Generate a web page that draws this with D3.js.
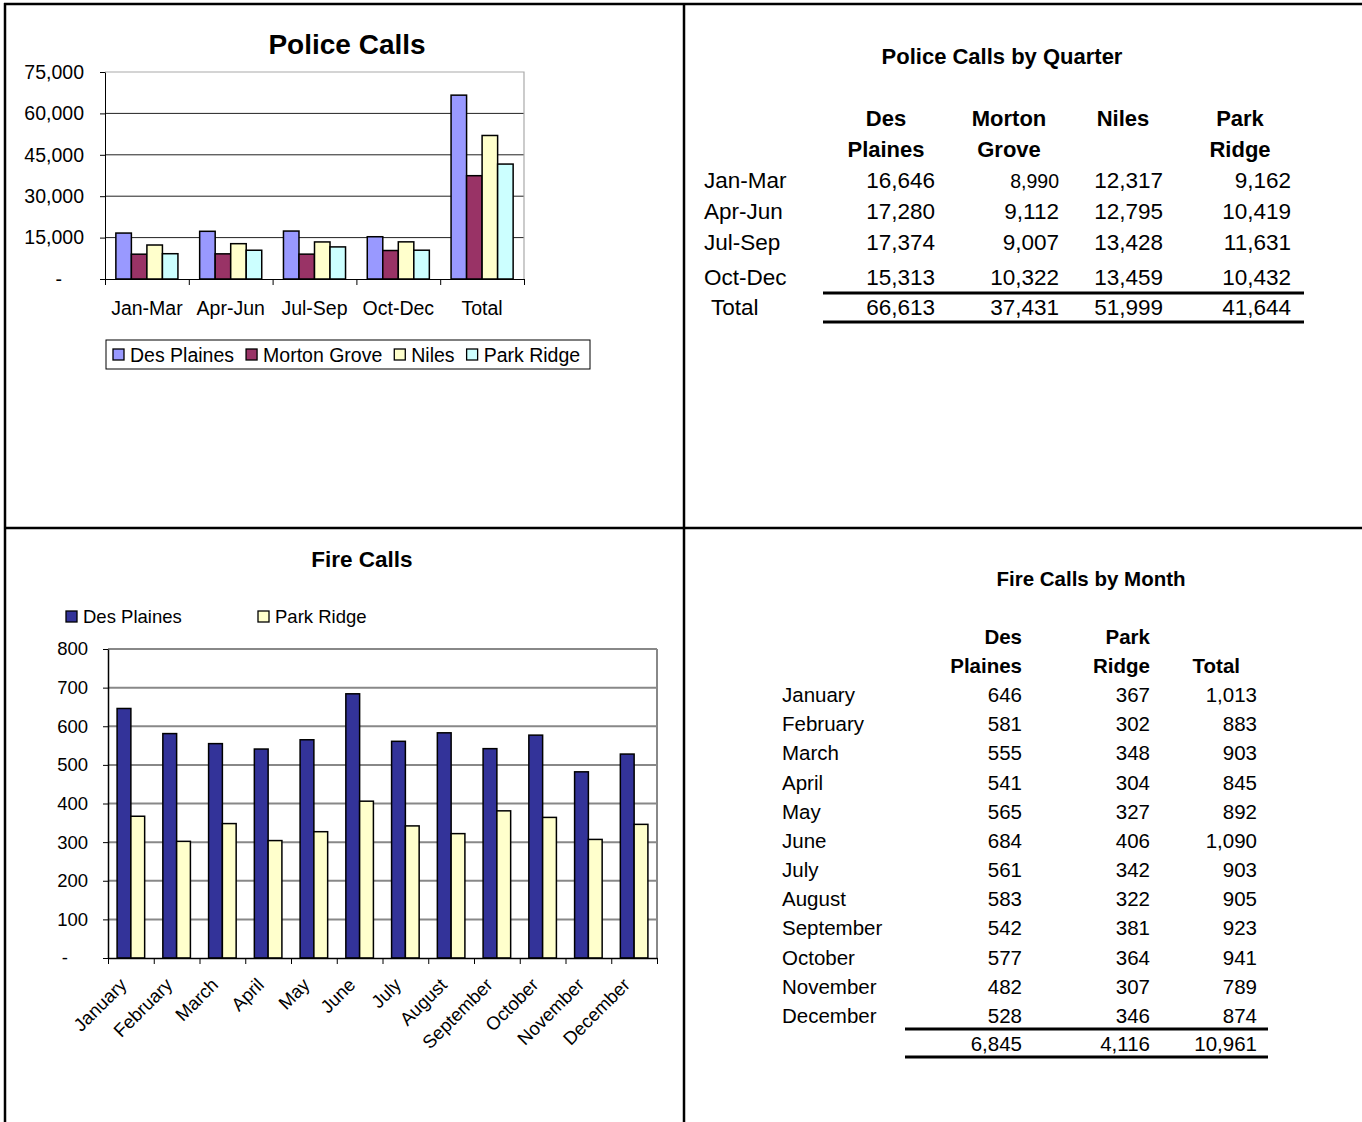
<!DOCTYPE html>
<html>
<head>
<meta charset="utf-8">
<script src="https://cdn.jsdelivr.net/npm/d3@7"></script>
<style>
  body { margin: 0; background: #fff; }
  svg { display: block; font-family: Arial, "Liberation Sans", sans-serif; }
</style>
</head>
<body>
<svg id="page" width="1362" height="1122"></svg>
<script>
// ---- data ----
const quarters = ["Jan-Mar", "Apr-Jun", "Jul-Sep", "Oct-Dec"];
const policeCities = ["Des Plaines", "Morton Grove", "Niles", "Park Ridge"];
const desPlainesPolice = [16646, 17280, 17374, 15313];
const mortonGrovePolice = [8990, 9112, 9007, 10322];
const nilesPolice = [12317, 12795, 13428, 13459];
const parkRidgePolice = [9162, 10419, 11631, 10432];
const policeTicks = [0, 15000, 30000, 45000, 60000, 75000];

const months = ["January", "February", "March", "April", "May", "June", "July",
  "August", "September", "October", "November", "December"];
const fireCities = ["Des Plaines", "Park Ridge"];
const desPlainesFire = [646, 581, 555, 541, 565, 684, 561, 583, 542, 577, 482, 528];
const parkRidgeFire = [367, 302, 348, 304, 327, 406, 342, 322, 381, 364, 307, 346];
const fireTicks = [0, 100, 200, 300, 400, 500, 600, 700, 800];

const fmt = d3.format(",");
const svg = d3.select("#page");

// ---- page frame (quadrants) ----
const frame = svg.append("g").attr("stroke", "#000").attr("stroke-width", 2.5);
frame.append("line").attr("x1", 4).attr("x2", 1362).attr("y1", 4).attr("y2", 4);
frame.append("line").attr("x1", 5).attr("x2", 5).attr("y1", 3).attr("y2", 1122);
frame.append("line").attr("x1", 684).attr("x2", 684).attr("y1", 3).attr("y2", 1122);
frame.append("line").attr("x1", 4).attr("x2", 1362).attr("y1", 528).attr("y2", 528);

// ================= Police Calls chart =================
function drawPoliceChart() {
  const box = {left: 105, right: 524, top: 72, bottom: 279};
  const colors = ["#9999FF", "#993366", "#FFFFCC", "#CCFFFF"];
  const cats = quarters.concat(["Total"]);
  const seriesValues = [desPlainesPolice, mortonGrovePolice, nilesPolice, parkRidgePolice];
  const series = policeCities.map((name, i) => ({
    name: name,
    color: colors[i],
    values: seriesValues[i].concat([d3.sum(seriesValues[i])])
  }));

  const g = svg.append("g");

  g.append("text")
    .attr("x", 347).attr("y", 54)
    .attr("text-anchor", "middle")
    .style("font-size", "28px").style("font-weight", "bold")
    .text("Police Calls");

  const x0 = d3.scaleBand().domain(cats).range([box.left, box.right]);
  const x1 = d3.scaleBand().domain(policeCities).range([0, x0.bandwidth()])
    .paddingInner(0).paddingOuter(0.7);
  const y = d3.scaleLinear().domain([0, 75000]).range([box.bottom, box.top]);

  // gridlines
  g.selectAll(".grid")
    .data(policeTicks.filter(t => t > 0 && t < 75000))
    .enter().append("line")
    .attr("x1", box.left).attr("x2", box.right)
    .attr("y1", d => y(d)).attr("y2", d => y(d))
    .attr("stroke", "#222").attr("stroke-width", 1);

  // plot border top / right
  g.append("path")
    .attr("d", `M${box.left},${y(75000)}H${box.right}V${box.bottom}`)
    .attr("fill", "none").attr("stroke", "#aaa").attr("stroke-width", 1.2);

  // bars
  const groups = g.selectAll(".grp")
    .data(cats)
    .enter().append("g")
    .attr("transform", d => `translate(${x0(d)},0)`);

  groups.selectAll("rect")
    .data((c, ci) => series.map(s => ({name: s.name, color: s.color, value: s.values[ci]})))
    .enter().append("rect")
    .attr("x", d => x1(d.name))
    .attr("width", x1.bandwidth())
    .attr("y", d => y(d.value))
    .attr("height", d => y(0) - y(d.value))
    .attr("fill", d => d.color)
    .attr("stroke", "#000").attr("stroke-width", 1.5);

  // y axis
  const yAxis = g.append("g")
    .attr("transform", `translate(${box.left},0)`)
    .call(d3.axisLeft(y).tickValues(policeTicks).tickSize(5).tickPadding(16)
      .tickSizeOuter(0).tickFormat(d => d === 0 ? "-" : fmt(d)));
  yAxis.selectAll("text").style("font-size", "19.5px").attr("fill", "#000")
    .attr("font-family", null);
  yAxis.selectAll("text").filter(d => d === 0).attr("dx", -22);
  yAxis.selectAll("line").attr("stroke", "#000");
  yAxis.select(".domain").attr("stroke", "#000");

  // x axis (ticks on category boundaries)
  const xb = d3.scaleLinear().domain([0, cats.length]).range([box.left, box.right]);
  const xAxis = g.append("g")
    .attr("transform", `translate(0,${box.bottom})`)
    .call(d3.axisBottom(xb).tickValues(d3.range(cats.length + 1)).tickSize(6)
      .tickSizeOuter(0).tickFormat(""));
  xAxis.selectAll("line,path").attr("stroke", "#000");

  const xLabels = g.append("g")
    .attr("transform", `translate(0,${box.bottom})`)
    .call(d3.axisBottom(x0).tickSize(0).tickPadding(22));
  xLabels.select(".domain").remove();
  xLabels.selectAll("text").style("font-size", "19.5px").attr("fill", "#000")
    .attr("font-family", null);

  // legend
  const legend = g.append("g");
  legend.append("rect")
    .attr("x", 106).attr("y", 340).attr("width", 484).attr("height", 29)
    .attr("fill", "#fff").attr("stroke", "#000").attr("stroke-width", 1);
  let lx = 113;
  series.forEach(s => {
    legend.append("rect")
      .attr("x", lx).attr("y", 349).attr("width", 11).attr("height", 11)
      .attr("fill", s.color).attr("stroke", "#000").attr("stroke-width", 1.3);
    const t = legend.append("text")
      .attr("x", lx + 17).attr("y", 362)
      .style("font-size", "19.5px")
      .text(s.name);
    lx = lx + 17 + t.node().getComputedTextLength() + 12;
  });
}

// ================= Police Calls by Quarter table =================
function drawPoliceTable() {
  const g = svg.append("g");
  const seriesValues = [desPlainesPolice, mortonGrovePolice, nilesPolice, parkRidgePolice];

  g.append("text")
    .attr("x", 1002).attr("y", 64)
    .attr("text-anchor", "middle")
    .style("font-size", "22px").style("font-weight", "bold")
    .text("Police Calls by Quarter");

  const headers = [["Des", "Plaines"], ["Morton", "Grove"], ["Niles", ""], ["Park", "Ridge"]];
  const headCenter = d3.scaleOrdinal().domain(policeCities).range([886, 1009, 1123, 1240]);
  const colRight = d3.scaleOrdinal().domain(policeCities).range([935, 1059, 1163, 1291]);
  const rows = quarters.concat(["Total"]);
  const rowY = d3.scaleOrdinal().domain(rows).range([188, 219, 250, 285, 315]);

  policeCities.forEach((c, i) => {
    headers[i].forEach((h, j) => {
      g.append("text")
        .attr("x", headCenter(c)).attr("y", 126 + j * 31)
        .attr("text-anchor", "middle")
        .style("font-size", "22px").style("font-weight", "bold")
        .text(h);
    });
  });

  rows.forEach((r, ri) => {
    g.append("text")
      .attr("x", r === "Total" ? 711 : 704).attr("y", rowY(r))
      .style("font-size", "22.5px")
      .text(r);
    policeCities.forEach((c, ci) => {
      const v = r === "Total" ? d3.sum(seriesValues[ci]) : seriesValues[ci][ri];
      g.append("text")
        .attr("x", colRight(c)).attr("y", rowY(r))
        .attr("text-anchor", "end")
        .style("font-size", v === 8990 ? "19.5px" : "22.5px")
        .text(fmt(v));
    });
  });

  g.selectAll(".rule")
    .data([293, 322])
    .enter().append("line")
    .attr("x1", 823).attr("x2", 1304)
    .attr("y1", d => d).attr("y2", d => d)
    .attr("stroke", "#000").attr("stroke-width", 3);
}

// ================= Fire Calls chart =================
function drawFireChart() {
  const box = {left: 108, right: 657, top: 649, bottom: 958};
  const colors = ["#333399", "#FFFFCC"];
  const series = [
    {name: fireCities[0], color: colors[0], values: desPlainesFire},
    {name: fireCities[1], color: colors[1], values: parkRidgeFire}
  ];
  const g = svg.append("g");

  g.append("text")
    .attr("x", 362).attr("y", 567)
    .attr("text-anchor", "middle")
    .style("font-size", "22.5px").style("font-weight", "bold")
    .text("Fire Calls");

  // legend
  const legX = d3.scaleOrdinal().domain(fireCities).range([66, 258]);
  series.forEach(s => {
    g.append("rect")
      .attr("x", legX(s.name)).attr("y", 611).attr("width", 11).attr("height", 11)
      .attr("fill", s.color).attr("stroke", "#000").attr("stroke-width", 1.3);
    g.append("text")
      .attr("x", legX(s.name) + 17).attr("y", 623)
      .style("font-size", "18.5px")
      .text(s.name);
  });

  const x0 = d3.scaleBand().domain(months).range([box.left, box.right]);
  const x1 = d3.scaleBand().domain(fireCities).range([0, x0.bandwidth()])
    .paddingInner(0).paddingOuter(0.66);
  const y = d3.scaleLinear().domain([0, 800]).range([box.bottom, box.top]);

  // gridlines
  g.selectAll(".grid")
    .data(fireTicks.filter(t => t > 0))
    .enter().append("line")
    .attr("x1", box.left).attr("x2", box.right)
    .attr("y1", d => y(d)).attr("y2", d => y(d))
    .attr("stroke", "#888").attr("stroke-width", 2);
  g.append("line")
    .attr("x1", box.right).attr("x2", box.right)
    .attr("y1", box.top).attr("y2", box.bottom)
    .attr("stroke", "#888").attr("stroke-width", 2);

  const groups = g.selectAll(".grp")
    .data(months)
    .enter().append("g")
    .attr("transform", d => `translate(${x0(d)},0)`);

  groups.selectAll("rect")
    .data((m, mi) => series.map(s => ({name: s.name, color: s.color, value: s.values[mi]})))
    .enter().append("rect")
    .attr("x", d => x1(d.name))
    .attr("width", x1.bandwidth())
    .attr("y", d => y(d.value))
    .attr("height", d => y(0) - y(d.value))
    .attr("fill", d => d.color)
    .attr("stroke", "#000").attr("stroke-width", 1.5);

  // y axis
  const yAxis = g.append("g")
    .attr("transform", `translate(${box.left},0)`)
    .call(d3.axisLeft(y).tickValues(fireTicks).tickSize(5).tickPadding(15)
      .tickSizeOuter(0).tickFormat(d => d === 0 ? "-" : d));
  yAxis.selectAll("text").style("font-size", "18.5px").attr("fill", "#000")
    .attr("font-family", null);
  yAxis.selectAll("text").filter(d => d === 0).attr("dx", -20);
  yAxis.selectAll("line").attr("stroke", "#000");
  yAxis.select(".domain").attr("stroke", "#000").attr("stroke-width", 1.5);

  // x axis with boundary ticks
  const xb = d3.scaleLinear().domain([0, months.length]).range([box.left, box.right]);
  const xAxis = g.append("g")
    .attr("transform", `translate(0,${box.bottom})`)
    .call(d3.axisBottom(xb).tickValues(d3.range(months.length + 1)).tickSize(6)
      .tickSizeOuter(0).tickFormat(""));
  xAxis.selectAll("line").attr("stroke", "#000");
  xAxis.select(".domain").attr("stroke", "#000").attr("stroke-width", 1.5);

  const xLabels = g.append("g")
    .attr("transform", `translate(0,${box.bottom})`)
    .call(d3.axisBottom(x0).tickSize(0));
  xLabels.select(".domain").remove();
  xLabels.selectAll("text")
    .style("font-size", "18.5px").attr("fill", "#000").attr("font-family", null)
    .attr("x", 0).attr("y", 0).attr("dy", 0)
    .attr("text-anchor", "end")
    .attr("transform", "translate(-3,28) rotate(-45)");
}

// ================= Fire Calls by Month table =================
function drawFireTable() {
  const g = svg.append("g");
  const totals = months.map((m, i) => desPlainesFire[i] + parkRidgeFire[i]);
  const cols = ["Des Plaines", "Park Ridge", "Total"];
  const colValues = [desPlainesFire, parkRidgeFire, totals];
  const colRight = d3.scaleOrdinal().domain(cols).range([1022, 1150, 1257]);
  const headRight = d3.scaleOrdinal().domain(cols).range([1022, 1150, 1240]);
  const headers = [["Des", "Plaines"], ["Park", "Ridge"], ["", "Total"]];
  const rowY = d3.scaleLinear().domain([0, months.length - 1]).range([702, 1023]);

  g.append("text")
    .attr("x", 1091).attr("y", 586)
    .attr("text-anchor", "middle")
    .style("font-size", "20.5px").style("font-weight", "bold")
    .text("Fire Calls by Month");

  cols.forEach((c, ci) => {
    headers[ci].forEach((h, j) => {
      g.append("text")
        .attr("x", headRight(c)).attr("y", 644 + j * 29)
        .attr("text-anchor", "end")
        .style("font-size", "20.5px").style("font-weight", "bold")
        .text(h);
    });
  });

  months.forEach((m, mi) => {
    g.append("text")
      .attr("x", 782).attr("y", rowY(mi))
      .style("font-size", "20.5px")
      .text(m);
    cols.forEach((c, ci) => {
      g.append("text")
        .attr("x", colRight(c)).attr("y", rowY(mi))
        .attr("text-anchor", "end")
        .style("font-size", "20.5px")
        .text(fmt(colValues[ci][mi]));
    });
  });

  cols.forEach((c, ci) => {
    g.append("text")
      .attr("x", colRight(c)).attr("y", 1051)
      .attr("text-anchor", "end")
      .style("font-size", "20.5px")
      .text(fmt(d3.sum(colValues[ci])));
  });

  g.selectAll(".rule")
    .data([1029, 1057])
    .enter().append("line")
    .attr("x1", 905).attr("x2", 1268)
    .attr("y1", d => d).attr("y2", d => d)
    .attr("stroke", "#000").attr("stroke-width", 3);
}

drawPoliceChart();
drawPoliceTable();
drawFireChart();
drawFireTable();
</script>
</body>
</html>
